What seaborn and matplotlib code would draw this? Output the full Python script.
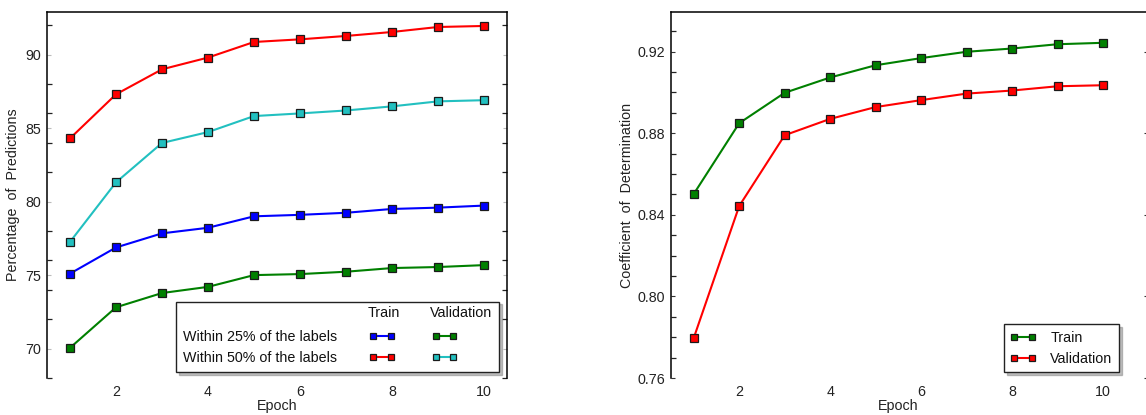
import matplotlib
matplotlib.use("Agg")
import matplotlib.pyplot as plt
import matplotlib.text as mtext
import seaborn as sns
from matplotlib.ticker import MultipleLocator
from matplotlib.legend_handler import HandlerBase
from matplotlib.patches import Rectangle
from matplotlib.textpath import TextPath
from matplotlib.font_manager import FontProperties

# ---------------- data ----------------
epochs = [1, 2, 3, 4, 5, 6, 7, 8, 9, 10]

# left panel: percentage of predictions
within25_train = [75.10, 76.88, 77.84, 78.22, 79.00, 79.10, 79.24, 79.50, 79.59, 79.73]
within25_val = [70.05, 72.81, 73.78, 74.20, 75.00, 75.07, 75.23, 75.48, 75.55, 75.68]
within50_train = [84.30, 87.30, 89.00, 89.80, 90.86, 91.04, 91.27, 91.54, 91.88, 91.95]
within50_val = [77.26, 81.31, 83.99, 84.73, 85.82, 86.00, 86.20, 86.48, 86.82, 86.90]

# right panel: coefficient of determination
r2_train = [0.8502, 0.8849, 0.8998, 0.9073, 0.9133, 0.9168, 0.9199, 0.9215, 0.9236, 0.9243]
r2_val = [0.7796, 0.8443, 0.8790, 0.8870, 0.8928, 0.8962, 0.8994, 0.9009, 0.9030, 0.9035]

left_yticks = [70, 75, 80, 85, 90]
right_yticks = [0.76, 0.80, 0.84, 0.88, 0.92]
xticks = [2, 4, 6, 8, 10]

row_labels = ["Within 25% of the labels", "Within 50% of the labels"]
col_headers = ["Train", "Validation"]

# ---------------- style ----------------
sns.set_style("white")
FONT = "Liberation Sans"
FS = 10.3
plt.rcParams["font.family"] = [FONT, "DejaVu Sans"]
plt.rcParams["font.size"] = FS

C_RED = "#ff0000"
C_CYAN = "#22c0c0"
C_BLUE = "#0000ff"
C_GREEN = "#008000"

fig = plt.figure(figsize=(11.46, 4.15), dpi=100)
W, H = 1146, 415
ax1 = fig.add_axes([47 / W, 1 - 378 / H, 460 / W, 366 / H])
ax2 = fig.add_axes([671 / W, 1 - 378 / H, 477 / W, 366 / H])

line_kw = dict(marker="s", markersize=5.5, markeredgecolor="#1a1a1a",
               markeredgewidth=0.9, linewidth=1.5, legend=False)

sns.lineplot(x=epochs, y=within25_train, ax=ax1, color=C_BLUE, **line_kw)
sns.lineplot(x=epochs, y=within25_val, ax=ax1, color=C_GREEN, **line_kw)
sns.lineplot(x=epochs, y=within50_train, ax=ax1, color=C_RED, **line_kw)
sns.lineplot(x=epochs, y=within50_val, ax=ax1, color=C_CYAN, **line_kw)

sns.lineplot(x=epochs, y=r2_train, ax=ax2, color=C_GREEN, **line_kw)
sns.lineplot(x=epochs, y=r2_val, ax=ax2, color=C_RED, **line_kw)


def style_axes(ax, ylim, yticks, yminor, xlim):
    ax.set_xlim(*xlim)
    ax.set_ylim(*ylim)
    ax.set_xticks(xticks)
    ax.set_yticks(yticks)
    ax.yaxis.set_minor_locator(MultipleLocator(yminor))
    for side in ["top", "left", "right"]:
        ax.spines[side].set_visible(True)
        ax.spines[side].set_color("black")
        ax.spines[side].set_linewidth(1.1)
    ax.spines["bottom"].set_visible(False)
    ax.tick_params(axis="x", length=0, pad=5, labelsize=FS, colors="#222222")
    ax.tick_params(axis="y", which="major", length=3, width=0.8, direction="in",
                   color="#bbbbbb", left=True, right=True, pad=4, labelsize=FS,
                   labelcolor="#222222")
    ax.tick_params(axis="y", which="minor", length=3.5, width=0.9, direction="in",
                   color="#222222", left=True, right=True)
    ax.grid(False)


style_axes(ax1, (68.0, 92.9), left_yticks, 2, (0.5, 10.5))
style_axes(ax2, (0.76, 0.9394), right_yticks, 0.01, (0.5, 10.99))
ax2.tick_params(axis="y", which="minor", right=False)
ax2.tick_params(axis="y", which="major", color="#333333")
ax2.yaxis.set_major_formatter(matplotlib.ticker.FormatStrFormatter("%.2f"))

ax1.set_xlabel("Epoch", fontsize=FS, color="#222222")
ax1.set_ylabel("Percentage  of  Predictions", fontsize=FS, color="#222222")
ax2.set_xlabel("Epoch", fontsize=FS, color="#222222")
ax2.set_ylabel("Coefficient  of  Determination", fontsize=FS, color="#222222")
ax1.xaxis.set_label_coords(0.5, -0.058)
ax2.xaxis.set_label_coords(0.476, -0.058)
ax1.yaxis.set_label_coords(-0.058, 0.5)
ax2.yaxis.set_label_coords(-0.077, 0.5)


# ---------------- left legend as a small table ----------------
class Blank:
    pass


class Header:
    def __init__(self, label):
        self.label = label


class BlankHandler(HandlerBase):
    def legend_artist(self, legend, orig_handle, fontsize, handlebox):
        handlebox.width = 0
        r = Rectangle((0, 0), 0, 0, visible=False)
        handlebox.add_artist(r)
        return r


class HeaderHandler(HandlerBase):
    def legend_artist(self, legend, orig_handle, fontsize, handlebox):
        fp = FontProperties(family=FONT, size=fontsize)
        w = TextPath((0, 0), orig_handle.label, prop=fp).get_extents().width
        handlebox.width = max(handlebox.width, w)
        t = mtext.Text(-1, (handlebox.height - handlebox.ydescent) / 2 + 1,
                       orig_handle.label, fontproperties=fp,
                       ha="left", va="center", color="#111111")
        handlebox.add_artist(t)
        return t


l_b, l_g, l_r, l_c = ax1.lines[0], ax1.lines[1], ax1.lines[2], ax1.lines[3]
handles = [Blank(), Blank(), Blank(),
           Header(col_headers[0]), l_b, l_r,
           Header(col_headers[1]), l_g, l_c]
labels = ["", row_labels[0], row_labels[1], "", "", "", "", "", ""]
shadow_kw = {"color": "0.5", "alpha": 0.5}
leg1 = ax1.legend(handles, labels, ncol=3, markerfirst=True, handletextpad=0,
                  handlelength=1.85, columnspacing=2.2, labelspacing=0.5,
                  borderpad=0.5, loc="lower right", bbox_to_anchor=(0.983, 0.016),
                  borderaxespad=0, frameon=True, fancybox=False, framealpha=1,
                  edgecolor="#222222", fontsize=FS, numpoints=2, markerscale=0.85,
                  shadow=shadow_kw,
                  handler_map={Blank: BlankHandler(), Header: HeaderHandler()})
leg1.get_frame().set_linewidth(1.0)
for t in leg1.get_texts():
    t.set_color("#111111")

# ---------------- right legend ----------------
leg2 = ax2.legend([ax2.lines[0], ax2.lines[1]], ["Train", "Validation"],
                  loc="lower right", bbox_to_anchor=(0.939, 0.016), borderaxespad=0,
                  handlelength=1.85, handletextpad=0.95, labelspacing=0.5,
                  borderpad=0.45, frameon=True, fancybox=False, framealpha=1,
                  edgecolor="#222222", fontsize=FS, numpoints=2, markerscale=0.85,
                  shadow=shadow_kw)
leg2.get_frame().set_linewidth(1.0)
for t in leg2.get_texts():
    t.set_color("#111111")

fig.savefig("out.png", dpi=100)
